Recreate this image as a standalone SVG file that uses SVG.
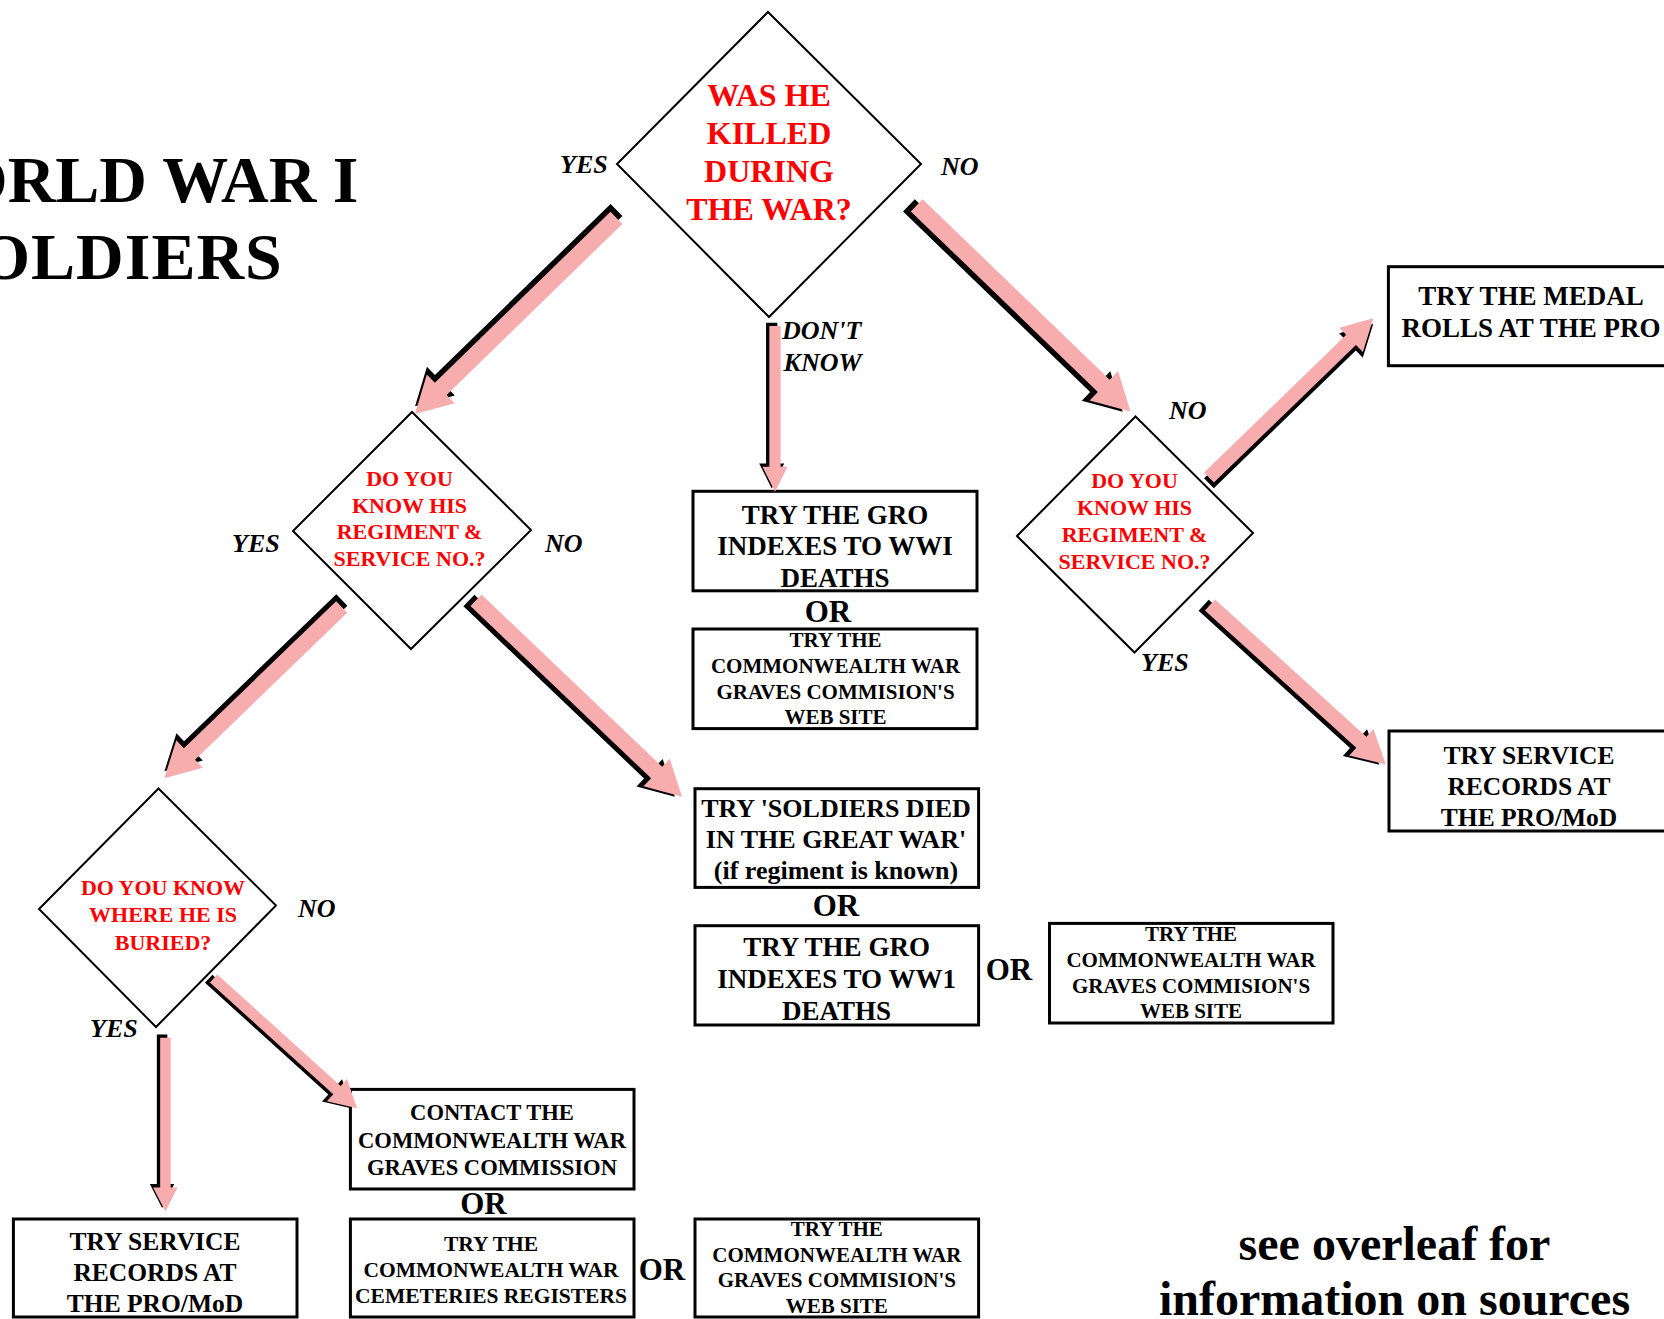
<svg xmlns="http://www.w3.org/2000/svg" width="1664" height="1319" viewBox="0 0 1664 1319">
<style>
.box{fill:#fff;stroke:#000;stroke-width:3}
.dia{fill:#fff;stroke:#000;stroke-width:2}
text{font-family:"Liberation Serif","Times New Roman",serif;font-weight:bold}
.c{text-anchor:middle}
.q{fill:#f00}
.lbl{font-style:italic;font-size:26px}
.sh{fill:#000}
.pk{fill:#F7ADAD}
</style>
<rect width="1664" height="1319" fill="#fff"/>
<g id="title">
<text x="-109.7" y="202" font-size="66">WORLD WAR I</text>
<text x="-59" y="279" font-size="66" letter-spacing="1">SOLDIERS</text>
</g>
<g id="q1">
<polygon class="dia" points="768,12 921,164 769,317 617,164"/>
<text class="c q" font-size="32"><tspan x="769" y="106">WAS HE</tspan><tspan x="769" y="144">KILLED</tspan><tspan x="769" y="181.7">DURING</tspan><tspan x="769" y="220">THE WAR?</tspan></text>
</g>
<g id="q2a">
<polygon class="dia" points="412,412 531,530 411,649 293,531"/>
<text class="c q" font-size="22"><tspan x="409.5" y="486">DO YOU</tspan><tspan x="409.5" y="512.7">KNOW HIS</tspan><tspan x="409.5" y="539">REGIMENT &amp;</tspan><tspan x="409.5" y="565.7">SERVICE NO.?</tspan></text>
</g>
<g id="q2b">
<polygon class="dia" points="1135.5,416.5 1253,533 1134.5,652.5 1017,536"/>
<text class="c q" font-size="22"><tspan x="1134.5" y="488.3">DO YOU</tspan><tspan x="1134.5" y="515">KNOW HIS</tspan><tspan x="1134.5" y="541.8">REGIMENT &amp;</tspan><tspan x="1134.5" y="568.5">SERVICE NO.?</tspan></text>
</g>
<g id="q3">
<polygon class="dia" points="158.5,788.5 276,905.5 156,1027 39,909"/>
<text class="c q" font-size="22"><tspan x="163" y="895">DO YOU KNOW</tspan><tspan x="163" y="922">WHERE HE IS</tspan><tspan x="163" y="949.5">BURIED?</tspan></text>
</g>
<g id="medal">
<rect class="box" x="1388.4" y="266.7" width="300" height="99"/>
<text class="c" font-size="27"><tspan x="1531" y="305">TRY THE MEDAL</tspan><tspan x="1531" y="336.7">ROLLS AT THE PRO</tspan></text>
</g>
<g id="gro1">
<rect class="box" x="693" y="491.3" width="284" height="99.5"/>
<text class="c" font-size="27"><tspan x="835" y="523.5">TRY THE GRO</tspan><tspan x="835" y="555.2">INDEXES TO WWI</tspan><tspan x="835" y="587">DEATHS</tspan></text>
</g>
<text id="or1" class="c" x="828" y="622" font-size="31">OR</text>
<g id="cwgc1">
<rect class="box" x="693" y="629" width="284" height="99.6"/>
<text class="c" font-size="21"><tspan x="835.5" y="647">TRY THE</tspan><tspan x="835.5" y="673">COMMONWEALTH WAR</tspan><tspan x="835.5" y="698.8">GRAVES COMMISION'S</tspan><tspan x="835.5" y="724.4">WEB SITE</tspan></text>
</g>
<g id="sdgw">
<rect class="box" x="695" y="788.7" width="283.6" height="98.7"/>
<text class="c" font-size="26"><tspan x="836" y="817.4">TRY 'SOLDIERS DIED</tspan><tspan x="836" y="848">IN THE GREAT WAR'</tspan><tspan x="836" y="879.4">(if regiment is known)</tspan></text>
</g>
<text id="or2" class="c" x="836" y="916" font-size="31">OR</text>
<g id="gro2">
<rect class="box" x="695" y="925.7" width="283.6" height="99.3"/>
<text class="c" font-size="27"><tspan x="836.6" y="956">TRY THE GRO</tspan><tspan x="836.6" y="987.7">INDEXES TO WW1</tspan><tspan x="836.6" y="1020">DEATHS</tspan></text>
</g>
<text id="or3" class="c" x="1009" y="980" font-size="31">OR</text>
<g id="cwgc2">
<rect class="box" x="1049.5" y="923.4" width="283.5" height="99.6"/>
<text class="c" font-size="21"><tspan x="1191" y="941">TRY THE</tspan><tspan x="1191" y="966.6">COMMONWEALTH WAR</tspan><tspan x="1191" y="992.7">GRAVES COMMISION'S</tspan><tspan x="1191" y="1018">WEB SITE</tspan></text>
</g>
<g id="servR">
<rect class="box" x="1389" y="731" width="300" height="100"/>
<text class="c" font-size="25.5"><tspan x="1529" y="764">TRY SERVICE</tspan><tspan x="1529" y="795">RECORDS AT</tspan><tspan x="1529" y="825.6">THE PRO/MoD</tspan></text>
</g>
<g id="contact">
<rect class="box" x="350.4" y="1089.4" width="283.6" height="99.6"/>
<text class="c" font-size="22.6"><tspan x="492" y="1120">CONTACT THE</tspan><tspan x="492" y="1147.8">COMMONWEALTH WAR</tspan><tspan x="492" y="1174.6">GRAVES COMMISSION</tspan></text>
</g>
<text id="or4" class="c" x="483.5" y="1213.8" font-size="31">OR</text>
<g id="cem">
<rect class="box" x="350.4" y="1219" width="283.6" height="98"/>
<text class="c" font-size="21.5"><tspan x="491" y="1251">TRY THE</tspan><tspan x="491" y="1277.4">COMMONWEALTH WAR</tspan><tspan x="491" y="1303.2">CEMETERIES REGISTERS</tspan></text>
</g>
<text id="or5" class="c" x="662" y="1280" font-size="31">OR</text>
<g id="servL">
<rect class="box" x="13.4" y="1219" width="283.6" height="98"/>
<text class="c" font-size="25.5"><tspan x="155" y="1250">TRY SERVICE</tspan><tspan x="155" y="1281">RECORDS AT</tspan><tspan x="155" y="1312">THE PRO/MoD</tspan></text>
</g>
<g id="cwgc3">
<rect class="box" x="695" y="1219" width="283.6" height="98"/>
<text class="c" font-size="21"><tspan x="836.8" y="1236">TRY THE</tspan><tspan x="836.8" y="1262.3">COMMONWEALTH WAR</tspan><tspan x="836.8" y="1287.3">GRAVES COMMISION'S</tspan><tspan x="836.8" y="1313.3">WEB SITE</tspan></text>
</g>
<g id="note">
<text class="c" font-size="48"><tspan x="1394.5" y="1260">see overleaf for</tspan><tspan x="1394.5" y="1315">information on sources</tspan></text>
</g>
<g id="connectors">
<g transform="translate(616.4,217.8) rotate(135.75)">
<polygon class="sh" transform="translate(-5.5,5.5)" points="0,-8.5 245.2,-8.5 245.2,-20 281.2,0 245.2,20 245.2,8.5 0,8.5"/>
<polygon class="pk" points="0,-8.5 245.2,-8.5 245.2,-20 281.2,0 245.2,20 245.2,8.5 0,8.5"/>
</g>
<g transform="translate(916.7,205.3) rotate(43.97)">
<polygon class="sh" transform="translate(-5.5,5.5)" points="0,-8.5 260,-8.5 260,-20.5 297,0 260,20.5 260,8.5 0,8.5"/>
<polygon class="pk" points="0,-8.5 260,-8.5 260,-20.5 297,0 260,20.5 260,8.5 0,8.5"/>
</g>
<g transform="translate(775,326) rotate(90)">
<polygon class="sh" transform="translate(-3.3,3.3)" points="0,-5.65 140.7,-5.65 140.7,-12.5 165.7,0 140.7,12.5 140.7,5.65 0,5.65"/>
<polygon class="pk" points="0,-5.65 140.7,-5.65 140.7,-12.5 165.7,0 140.7,12.5 140.7,5.65 0,5.65"/>
</g>
<g transform="translate(341.7,607) rotate(136)">
<polygon class="sh" transform="translate(-5,5)" points="0,-8 211.6,-8 211.6,-19 246.6,0 211.6,19 211.6,8 0,8"/>
<polygon class="pk" points="0,-8 211.6,-8 211.6,-19 246.6,0 211.6,19 211.6,8 0,8"/>
</g>
<g transform="translate(476,600.3) rotate(43.63)">
<polygon class="sh" transform="translate(-5,5)" points="0,-8 249.6,-8 249.6,-19 284.6,0 249.6,19 249.6,8 0,8"/>
<polygon class="pk" points="0,-8 249.6,-8 249.6,-19 284.6,0 249.6,19 249.6,8 0,8"/>
</g>
<g transform="translate(1209,477.5) rotate(-44.1)">
<polygon class="sh" transform="translate(-4,4)" points="0,-7 197.8,-7 197.8,-17 228.8,0 197.8,17 197.8,7 0,7"/>
<polygon class="pk" points="0,-7 197.8,-7 197.8,-17 228.8,0 197.8,17 197.8,7 0,7"/>
</g>
<g transform="translate(1210,605) rotate(42.2)">
<polygon class="sh" transform="translate(-4.5,4.5)" points="0,-7.5 204.3,-7.5 204.3,-18 237.3,0 204.3,18 204.3,7.5 0,7.5"/>
<polygon class="pk" points="0,-7.5 204.3,-7.5 204.3,-18 237.3,0 204.3,18 204.3,7.5 0,7.5"/>
</g>
<g transform="translate(213.6,978.5) rotate(42.15)">
<polygon class="sh" transform="translate(-3.5,3.5)" points="0,-5.5 166.4,-5.5 166.4,-15 193.4,0 166.4,15 166.4,5.5 0,5.5"/>
<polygon class="pk" points="0,-5.5 166.4,-5.5 166.4,-15 193.4,0 166.4,15 166.4,5.5 0,5.5"/>
</g>
<g transform="translate(165.4,1037.8) rotate(90)">
<polygon class="sh" transform="translate(-3.3,3.3)" points="0,-5.25 149.6,-5.25 149.6,-12.25 173.6,0 149.6,12.25 149.6,5.25 0,5.25"/>
<polygon class="pk" points="0,-5.25 149.6,-5.25 149.6,-12.25 173.6,0 149.6,12.25 149.6,5.25 0,5.25"/>
</g>
</g>
<g id="labels">
<text class="lbl" x="560" y="173">YES</text>
<text class="lbl" x="941" y="175">NO</text>
<text class="lbl" x="782" y="339.3">DON'T</text>
<text class="lbl" x="783.6" y="371">KNOW</text>
<text class="lbl" x="232" y="552">YES</text>
<text class="lbl" x="545" y="552">NO</text>
<text class="lbl" x="1169" y="419">NO</text>
<text class="lbl" x="1141" y="671">YES</text>
<text class="lbl" x="298" y="917">NO</text>
<text class="lbl" x="90" y="1037">YES</text>
</g>
</svg>
